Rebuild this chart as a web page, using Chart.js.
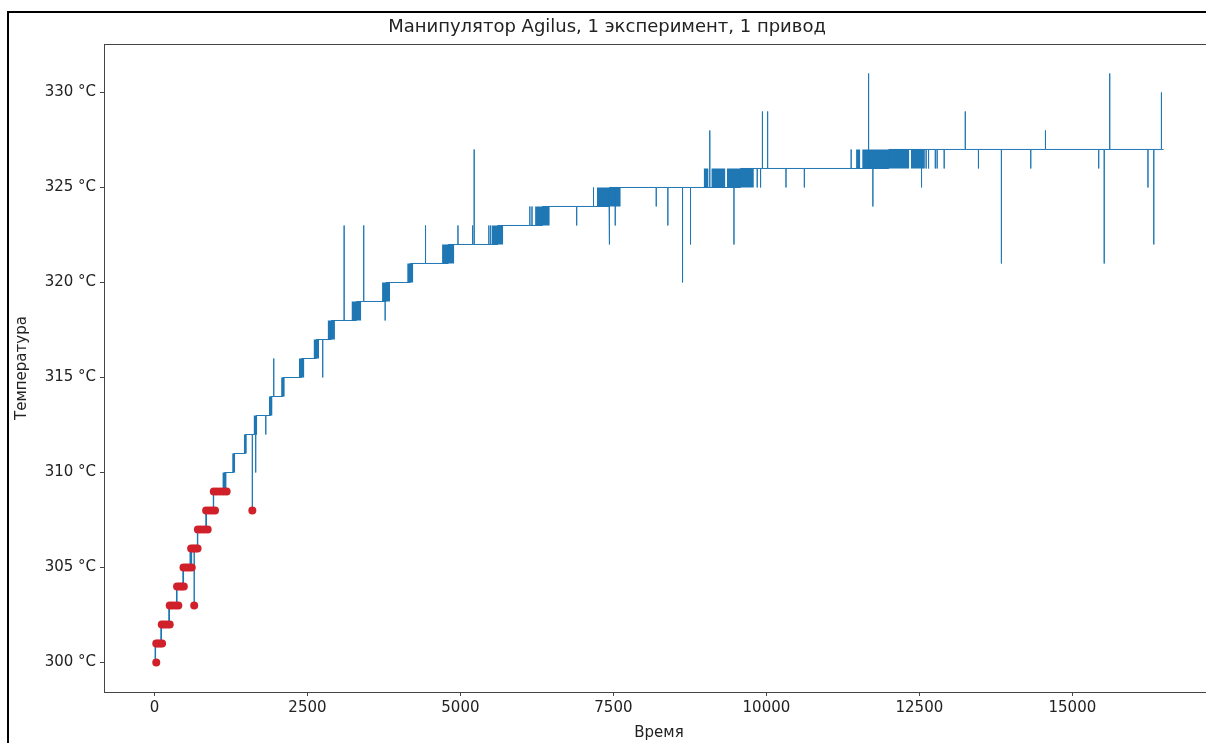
<!DOCTYPE html>
<html lang="ru">
<head>
<meta charset="UTF-8">
<title>Манипулятор Agilus</title>
<script src="https://cdn.jsdelivr.net/npm/chart.js"></script>
<style>
    html, body { margin: 0; padding: 0; background: #fff; overflow: hidden; }
    .wrap { position: relative; width: 1206px; height: 743px; overflow: hidden; }
    #grafico { position: absolute; left: 0; top: 0; }
    .frame { position: absolute; left: 7px; top: 11px; width: 1300px; height: 800px;
             border-left: 2px solid #000; border-top: 2px solid #000; pointer-events: none; }
</style>
</head>
<body>
<div class="wrap">
    <canvas id="grafico" width="1230" height="743"></canvas>
    <div class="frame"></div>
</div>

<script>
    // уровни температуры (время начала уровня)
    const stepTime = [0, 15, 110, 240, 365, 470, 595, 705, 845, 965, 1145, 1295, 1485, 1665, 1900,
        2100, 2405, 2645, 2890, 3300, 3785, 4180, 4800, 5610, 6340, 7440, 9575, 12000];
    const stepTemp = [300, 301, 302, 303, 304, 305, 306, 307, 308, 309, 310, 311, 312, 313, 314,
        315, 316, 317, 318, 319, 320, 321, 322, 323, 324, 325, 326, 327];
    const endTime = 16490;

    // одиночные выбросы
    const spikeTime = [650, 1600, 1655, 1820, 1950, 2750, 3100, 3420, 3770, 4430, 4960, 5200, 5225,
        5465, 5495, 6135, 6170, 6900, 7175, 7430, 7530, 8200, 8390, 8630, 8760, 9075, 9470, 9850,
        9905, 9935, 10020, 10320, 10620, 11385, 11670, 11740, 12535, 12610, 12650, 12760, 12790,
        12905, 13250, 13465, 13840, 14320, 14560, 15430, 15520, 15610, 16235, 16330, 16455];
    const spikeTemp = [303, 308, 310, 312, 316, 315, 323, 323, 318, 323, 323, 323, 327,
        323, 323, 324, 324, 323, 325, 322, 323, 324, 323, 320, 322, 328, 322, 325,
        325, 329, 329, 325, 325, 327, 331, 324, 325, 326, 326, 326, 326,
        326, 329, 326, 321, 326, 328, 326, 321, 331, 325, 322, 330];

    // участки дребезга между уровнями low и low+1
    const bandStart = [0, 95, 225, 350, 455, 570, 690, 830, 950, 1110, 1270, 1460, 1620, 1870, 2070,
        2360, 2600, 2830, 3220, 3720, 4130, 4700, 5515, 6220, 7230, 8975, 9100, 9355, 11465, 11565, 12360];
    const bandEnd = [30, 125, 255, 380, 485, 620, 720, 860, 980, 1180, 1320, 1510, 1680, 1930, 2130,
        2450, 2690, 2950, 3380, 3850, 4230, 4900, 5700, 6460, 7620, 9055, 9330, 9795, 11535, 12335, 12590];
    const bandLow = [300, 301, 302, 303, 304, 305, 306, 307, 308, 309, 310, 311, 312, 313, 314,
        315, 316, 317, 318, 319, 320, 321, 322, 323, 324, 325, 325, 325, 326, 326, 326];

    // выделенные точки (красные)
    const redTime = [30, 30, 60, 95, 125, 120, 160, 205, 250, 250, 295, 345, 390, 650,
        370, 410, 445, 480, 475, 520, 565, 610, 600, 635, 670, 705, 710, 760, 815, 870,
        845, 895, 945, 990, 1600, 970, 1020, 1075, 1130, 1180];
    const redTemp = [300, 301, 301, 301, 301, 302, 302, 302, 302, 303, 303, 303, 303, 303,
        304, 304, 304, 304, 305, 305, 305, 305, 306, 306, 306, 306, 307, 307, 307, 307,
        308, 308, 308, 308, 308, 309, 309, 309, 309, 309];

    const xTicks = [0, 2500, 5000, 7500, 10000, 12500, 15000];
    const yTicks = [300, 305, 310, 315, 320, 325, 330];

    const azul = '#1f77b4';
    const vermelho = '#d0202a';
    const fonte = { family: 'DejaVu Sans', size: 15, weight: 'normal' };
    const corTexto = '#222';

    // linha principal
    const linha = [];
    stepTime.forEach((t0, i) => {
        const t1 = i + 1 < stepTime.length ? stepTime[i + 1] : endTime;
        const lvl = stepTemp[i];
        linha.push({ x: t0, y: lvl });
        spikeTime.forEach((s, j) => {
            if (s >= t0 && s < t1) {
                linha.push({ x: s, y: lvl }, { x: s, y: spikeTemp[j] }, { x: s, y: lvl });
            }
        });
        linha.push({ x: t1, y: lvl });
    });

    const datasets = [{
        data: redTime.map((t, i) => ({ x: t, y: redTemp[i] })),
        showLine: false,
        pointRadius: 4,
        pointBackgroundColor: vermelho,
        pointBorderWidth: 0
    }, {
        data: linha,
        borderColor: azul,
        borderWidth: 1,
        pointRadius: 0,
        tension: 0,
        fill: false
    }];

    bandStart.forEach((s, i) => {
        datasets.push({
            data: [{ x: s, y: bandLow[i] + 1 }, { x: bandEnd[i], y: bandLow[i] + 1 }],
            borderWidth: 0,
            pointRadius: 0,
            backgroundColor: azul,
            fill: { value: bandLow[i] }
        });
    });

    const moldura = {
        id: 'moldura',
        afterDraw(chart) {
            const a = chart.chartArea;
            const ctx = chart.ctx;
            ctx.save();
            ctx.strokeStyle = '#444';
            ctx.lineWidth = 1;
            ctx.strokeRect(Math.round(a.left) + 0.5, Math.round(a.top) + 0.5,
                Math.round(a.right - a.left), Math.round(a.bottom - a.top));
            ctx.restore();
        }
    };

    new Chart(document.getElementById('grafico').getContext('2d'), {
        type: 'line',
        data: { datasets: datasets },
        options: {
            responsive: false,
            animation: false,
            events: [],
            layout: { padding: { left: 0, right: 16, top: 0, bottom: 0 } },
            plugins: {
                legend: { display: false },
                tooltip: { enabled: false },
                title: {
                    display: true,
                    text: 'Манипулятор Agilus, 1 эксперимент, 1 привод',
                    color: corTexto,
                    font: { family: 'DejaVu Sans', size: 18, weight: 'normal' },
                    padding: { top: 17, bottom: 5.4 }
                }
            },
            scales: {
                x: {
                    type: 'linear',
                    min: -824,
                    max: 17314,
                    afterBuildTicks: s => { s.ticks = xTicks.map(v => ({ value: v })); },
                    afterFit: s => { s.height = 51; },
                    ticks: { color: corTexto, font: fonte, padding: 3, maxRotation: 0, callback: v => String(v) },
                    grid: { drawOnChartArea: false, tickLength: 4, color: '#444' },
                    border: { display: false },
                    title: { display: true, text: 'Время', color: corTexto, font: fonte, padding: { top: 0, bottom: 1 } }
                },
                y: {
                    type: 'linear',
                    min: 298.45,
                    max: 332.55,
                    afterBuildTicks: s => { s.ticks = yTicks.map(v => ({ value: v })); },
                    afterFit: s => { s.width = 104; },
                    ticks: { color: corTexto, font: fonte, padding: 4, callback: v => v + ' °C' },
                    grid: { drawOnChartArea: false, tickLength: 4, color: '#444' },
                    border: { display: false },
                    title: { display: true, text: 'Температура', color: corTexto, font: fonte, padding: { top: 13, bottom: 0 } }
                }
            }
        },
        plugins: [moldura]
    });
</script>
</body>
</html>
